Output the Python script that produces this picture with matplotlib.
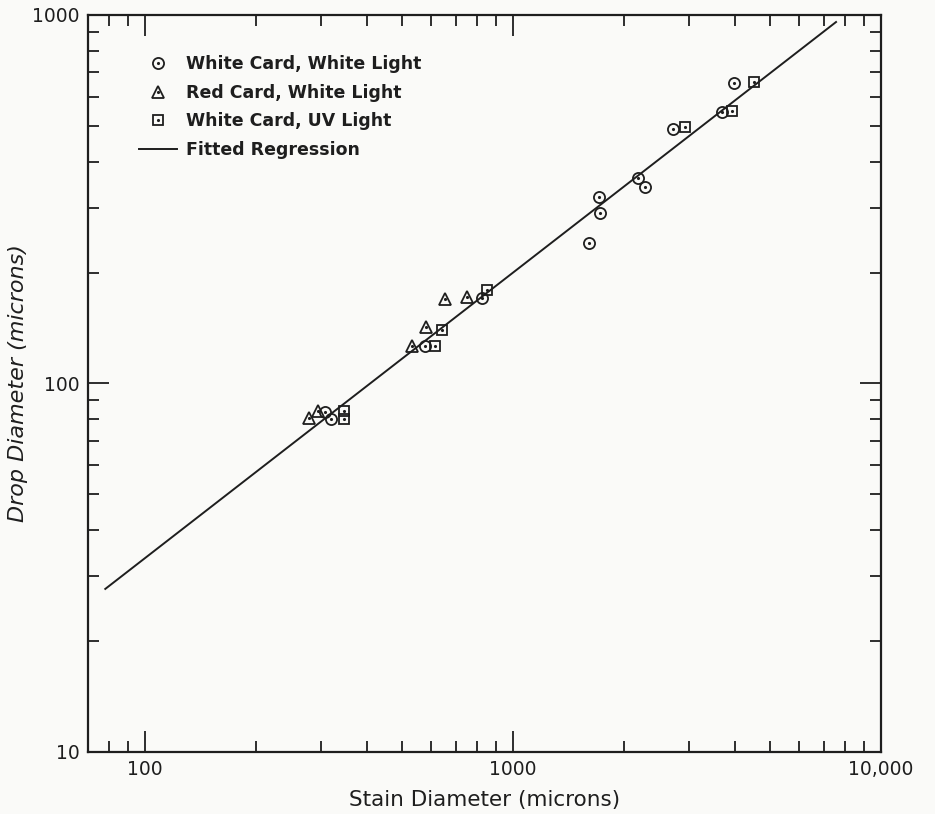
import matplotlib
matplotlib.use("Agg")
import matplotlib.pyplot as plt
import matplotlib.ticker as ticker

# values
circ_x = [308, 320, 577, 824, 1610, 1713, 1723, 2188, 2286, 2722, 3698, 3987]
circ_y = [83.5, 80.3, 126, 171, 240, 320, 290, 361, 341, 490, 544, 653]
tri_x = [279, 295, 531, 580, 653, 750]
tri_y = [80.8, 84, 126, 142, 170, 172]
sq_x = [347, 347, 614, 641, 850, 2933, 3938, 4519]
sq_y = [84, 80.3, 126, 140, 179, 496, 548, 658]
fit_x = [78, 7550]
fit_y = [27.7, 957]

ink = '#1e1e1e'
plt.rcParams['font.family'] = 'DejaVu Sans'

fig = plt.figure(figsize=(9.35, 8.14), dpi=100, facecolor='#fafaf8')
ax = fig.add_axes([0.0941, 0.0762, 0.8481, 0.9054])
ax.set_facecolor('#fafaf8')
ax.set_xscale('log')
ax.set_yscale('log')
ax.set_xlim(70, 10000)
ax.set_ylim(10, 1000)

fit_line, = ax.plot(fit_x, fit_y, color=ink, lw=1.4)

mk = dict(linestyle='none', mfc='none', mec=ink, mew=1.3)
dot = dict(linestyle='none', marker='.', color=ink, markersize=2.5)
c1, = ax.plot(circ_x, circ_y, marker='o', markersize=8, **mk)
c2, = ax.plot(circ_x, circ_y, **dot)
t1, = ax.plot(tri_x, tri_y, marker='^', markersize=9, **mk)
t2, = ax.plot(tri_x, tri_y, **dot)
s1, = ax.plot(sq_x, sq_y, marker='s', markersize=7.5, **mk)
s2, = ax.plot(sq_x, sq_y, **dot)

ax.legend([(c1, c2), (t1, t2), (s1, s2), fit_line],
          ['White Card, White Light', 'Red Card, White Light',
           'White Card, UV Light', 'Fitted Regression'],
          loc='upper left', bbox_to_anchor=(0.045, 0.967), frameon=False,
          prop=dict(size=12.5, weight='bold'), handlelength=2.2,
          handletextpad=0.5, labelspacing=0.62, labelcolor=ink)

for s in ax.spines.values():
    s.set_linewidth(1.6)
    s.set_color(ink)

ax.xaxis.set_major_locator(ticker.FixedLocator([100, 1000, 10000]))
ax.xaxis.set_major_formatter(ticker.FixedFormatter(['100', '1000', '10,000']))
ax.xaxis.set_minor_locator(ticker.LogLocator(base=10, subs=range(2, 10)))
ax.xaxis.set_minor_formatter(ticker.NullFormatter())
ax.yaxis.set_major_locator(ticker.FixedLocator([10, 100, 1000]))
ax.yaxis.set_major_formatter(ticker.FixedFormatter(['10', '100', '1000']))
ax.yaxis.set_minor_locator(ticker.LogLocator(base=10, subs=range(2, 10)))
ax.yaxis.set_minor_formatter(ticker.NullFormatter())

ax.tick_params(which='both', direction='in', top=True, right=True,
               color=ink, labelcolor=ink, labelsize=13.5, width=1.3)
ax.tick_params(which='major', length=15, pad=6)
ax.tick_params(which='minor', length=8)

ax.set_xlabel('Stain Diameter (microns)', fontsize=15.5, color=ink, labelpad=8)
ax.set_ylabel('Drop Diameter (microns)', fontsize=16, color=ink,
              style='italic', labelpad=3)

fig.savefig('out.png', dpi=100, facecolor=fig.get_facecolor())
